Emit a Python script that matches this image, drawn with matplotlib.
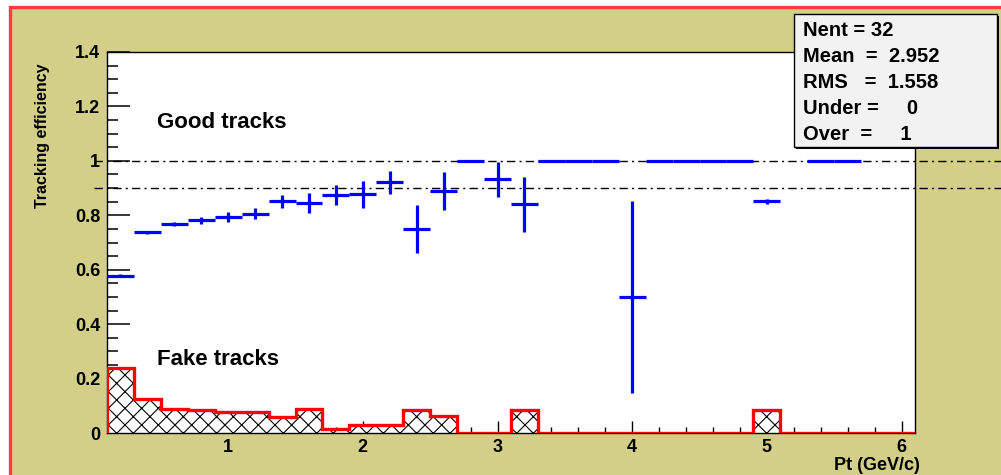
import matplotlib
matplotlib.use("Agg")
import matplotlib.pyplot as plt
from matplotlib.patches import Rectangle
from matplotlib.ticker import MultipleLocator, FixedLocator
import numpy as np

plt.rcParams['font.family'] = ['Liberation Sans', 'DejaVu Sans']
plt.rcParams['font.weight'] = 'bold'
plt.rcParams['hatch.linewidth'] = 0.8

# good tracks efficiency (non-empty bins)
good_pt = [0.2, 0.4, 0.6, 0.8, 1.0, 1.2, 1.4, 1.6, 1.8, 2.0, 2.2, 2.4, 2.6, 2.8,
           3.0, 3.2, 3.4, 3.6, 3.8, 4.0, 4.2, 4.4, 4.6, 4.8, 5.0, 5.4, 5.6]
good_eff = [0.578, 0.738, 0.769, 0.781, 0.793, 0.806, 0.851, 0.845, 0.876, 0.877,
            0.921, 0.748, 0.888, 1.0, 0.932, 0.84, 1.0, 1.0, 1.0, 0.5, 1.0, 1.0,
            1.0, 1.0, 0.851, 1.0, 1.0]
good_err = [0.005, 0.005, 0.008, 0.012, 0.018, 0.021, 0.023, 0.036, 0.037, 0.05,
            0.043, 0.088, 0.07, 0.0, 0.065, 0.1, 0.0, 0.0, 0.0, 0.354, 0.0, 0.0,
            0.0, 0.0, 0.01, 0.0, 0.0]
bin_half = 0.1

# fake tracks histogram, bins 0.1 .. 6.1
fake_edges = [0.1, 0.3, 0.5, 0.7, 0.9, 1.1, 1.3, 1.5, 1.7, 1.9, 2.1, 2.3, 2.5, 2.7,
              2.9, 3.1, 3.3, 3.5, 3.7, 3.9, 4.1, 4.3, 4.5, 4.7, 4.9, 5.1, 5.3, 5.5,
              5.7, 5.9, 6.1]
fake_frac = [0.24, 0.125, 0.09, 0.084, 0.078, 0.078, 0.059, 0.09, 0.016, 0.03,
             0.03, 0.085, 0.063, 0.0, 0.0, 0.085, 0.0, 0.0, 0.0, 0.0, 0.0, 0.0,
             0.0, 0.0, 0.085, 0.0, 0.0, 0.0, 0.0, 0.0]

stats_lines = ["Nent = 32", "Mean  =  2.952", "RMS   =  1.558",
               "Under =     0", "Over  =     1"]

W, H = 1001, 475
fig = plt.figure(figsize=(W / 100, H / 100), dpi=100, facecolor='white')

def px(x, y, w, h):
    # pixel box (top-left origin) -> figure coords
    return [x / W, 1 - (y + h) / H, w / W, h / H]

khaki = '#d3ce88'
b = px(9.5, 6.5, 1010, 480)
fig.add_artist(Rectangle((b[0], b[1]), b[2], b[3], transform=fig.transFigure,
                         facecolor=khaki, edgecolor='#ff3b3b', linewidth=2.4,
                         zorder=-10))

ax = fig.add_axes(px(107, 52, 808, 381))
ax.set_zorder(1)
ax.set_facecolor('white')
ax.set_xlim(0.1, 6.1)
ax.set_ylim(0, 1.4)

# fake tracks: hatched histogram with red outline
ax.stairs(fake_frac, fake_edges, fill=True, facecolor='white', edgecolor='black',
          hatch='xx', linewidth=0, zorder=2)
ax.stairs(fake_frac, fake_edges, baseline=0, color='#ff0000', linewidth=2.4, zorder=3)

# reference lines
for yv in [1.0, 0.9]:
    ax.plot([0, 7], [yv, yv], color='black', linewidth=1.0, linestyle=(0, (6, 3, 1.5, 3)),
            clip_on=False, zorder=4)

# good tracks efficiency
ax.errorbar(good_pt, good_eff, xerr=bin_half, yerr=good_err, fmt='none',
            ecolor='#0000ff', elinewidth=2.3, capsize=0, zorder=5)

ax.text(0.47, 1.14, "Good tracks", fontsize=16, fontweight='bold', va='center')
ax.text(0.47, 0.27, "Fake tracks", fontsize=16, fontweight='bold', va='center')

ax.set_yticks([0, 0.2, 0.4, 0.6, 0.8, 1.0, 1.2, 1.4])
ax.set_yticklabels(['0', '0.2', '0.4', '0.6', '0.8', '1', '1.2', '1.4'])
ax.yaxis.set_minor_locator(MultipleLocator(0.05))
ax.xaxis.set_major_locator(FixedLocator([1, 2, 3, 4, 5, 6]))
ax.xaxis.set_minor_locator(MultipleLocator(0.2))
ax.tick_params(axis='y', which='major', direction='in', length=16.5, width=1.1,
               labelsize=13, pad=5, left=True, right=False)
ax.tick_params(axis='y', which='minor', direction='in', length=8, width=1.1,
               left=True, right=False)
ax.tick_params(axis='x', which='major', direction='in', length=8.5, width=1.0,
               labelsize=13, pad=4, bottom=True, top=False)
ax.tick_params(axis='x', which='minor', direction='in', length=4.3, width=1.0,
               bottom=True, top=False)
for lab in ax.get_xticklabels() + ax.get_yticklabels():
    lab.set_fontweight('bold')
for s in ax.spines.values():
    s.set_linewidth(1.0)

fig.text(920 / W, 1 - 465 / H, "Pt (GeV/c)", fontsize=13, fontweight='bold',
         ha='right', va='center')
fig.text(43 / W, 1 - 63 / H, "Tracking efficiency", fontsize=11.5, fontweight='bold',
         rotation=90, ha='center', va='top')

# stats box with shadow
sb = px(794, 14, 203, 133)
fig.add_artist(Rectangle((sb[0] + 2 / W, sb[1] - 2 / H), sb[2], sb[3],
                         transform=fig.transFigure, facecolor='black',
                         edgecolor='none', zorder=10))
fig.add_artist(Rectangle((sb[0], sb[1]), sb[2], sb[3], transform=fig.transFigure,
                         facecolor='#f2f2f2', edgecolor='black', linewidth=1.0,
                         zorder=11))
line_y = [31, 57, 83, 109, 135]
for txt, yy in zip(stats_lines, line_y):
    fig.text(803 / W, 1 - yy / H, txt, fontsize=14.5, fontweight='bold',
             ha='left', va='center', zorder=12)

fig.savefig('out.png', dpi=100, facecolor='white')
